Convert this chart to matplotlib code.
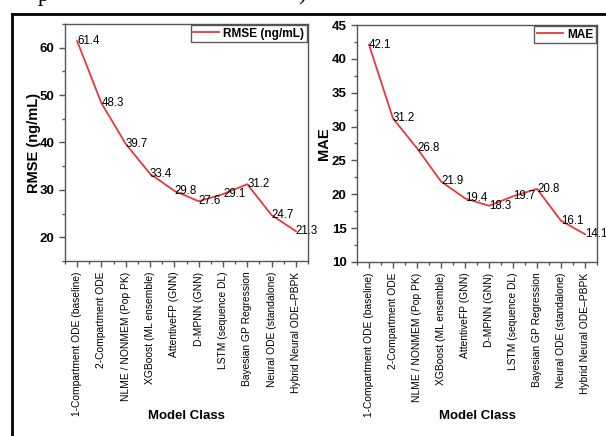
import matplotlib
matplotlib.use("Agg")
import matplotlib.pyplot as plt
from matplotlib.lines import Line2D
from matplotlib.ticker import MultipleLocator, FixedLocator

plt.rcParams['font.family'] = ['Liberation Sans', 'DejaVu Sans']

categories = ["1-Compartment ODE (baseline)", "2-Compartment ODE", "NLME / NONMEM (Pop PK)",
              "XGBoost (ML ensemble)", "AttentiveFP (GNN)", "D-MPNN (GNN)",
              "LSTM (sequence DL)", "Bayesian GP Regression", "Neural ODE (standalone)",
              "Hybrid Neural ODE\u2013PBPK"]
rmse = [61.4, 48.3, 39.7, 33.4, 29.8, 27.6, 29.1, 31.2, 24.7, 21.3]
mae = [42.1, 31.2, 26.8, 21.9, 19.4, 18.3, 19.7, 20.8, 16.1, 14.1]

W, H = 606, 436
fig = plt.figure(figsize=(W / 100, H / 100), dpi=100)

red = "#E8383D"
spine_c = "#555555"

def make(px, vals, ylabel, legend_label, ylim, major, minor, ylab_right_px):
    x0, x1, ytop, ybot = px
    ax = fig.add_axes([x0 / W, 1 - ybot / H, (x1 - x0) / W, (ybot - ytop) / H])
    x = list(range(len(categories)))
    ax.plot(x, vals, color=red, lw=1.3, label=legend_label)
    for xi, v in zip(x, vals):
        ax.text(xi, v, f"{v:.1f}", ha='left', va='center', fontsize=8.3, color='black',
                clip_on=False)
    ax.set_xlim(-0.5, len(categories) - 0.5)
    ax.set_ylim(*ylim)
    ax.yaxis.set_major_locator(MultipleLocator(major))
    ax.yaxis.set_minor_locator(MultipleLocator(minor))
    ax.set_xticks(x)
    ax.set_xticklabels(categories, rotation=90, fontsize=7.4)
    ax.xaxis.set_minor_locator(FixedLocator([i - 0.5 for i in range(len(categories) + 1)]))
    ax.tick_params(axis='both', which='major', direction='out', length=4, width=1, color=spine_c)
    ax.tick_params(axis='both', which='minor', direction='out', length=2.5, width=1, color=spine_c)
    ax.tick_params(axis='y', labelsize=9.5)
    for lbl in ax.get_yticklabels():
        lbl.set_fontweight('bold')
    for s in ax.spines.values():
        s.set_color(spine_c)
        s.set_linewidth(1.0)
    ax.set_ylabel(ylabel, fontsize=10.5, fontweight='bold')
    ax.yaxis.set_label_coords((ylab_right_px - x0) / (x1 - x0), 0.5)
    ax.set_xlabel("Model Class", fontsize=9.5, fontweight='bold')
    ax.xaxis.set_label_coords(0.5, -(410 - ybot) / (ybot - ytop))
    leg = ax.legend(loc='upper right', fontsize=8.6, frameon=True, fancybox=False,
                    borderaxespad=0.1, handlelength=2.2, borderpad=0.2, handletextpad=0.35)
    leg.get_frame().set_edgecolor('#333333')
    leg.get_frame().set_linewidth(1.0)
    for t in leg.get_texts():
        t.set_fontweight('bold')
    return ax

make((65, 308, 24, 261), rmse, "RMSE (ng/mL)", "RMSE (ng/mL)", (15, 65), 10, 5, 41)
make((357, 597, 25, 262), mae, "MAE", "MAE", (10, 45), 5, 2.5, 331)

# outer document frame
fig.add_artist(Line2D([12 / W, 12 / W], [0, 1 - 14 / H], transform=fig.transFigure,
                      color='black', lw=2))
fig.add_artist(Line2D([12 / W, 1], [1 - 14 / H, 1 - 14 / H], transform=fig.transFigure,
                      color='black', lw=2))
# cropped serif text fragments from the page above
fig.text(38 / W, 1 + 4 / H, "p", fontsize=16, family='Liberation Serif', va='center', ha='left')
fig.text(298 / W, 1 + 4 / H, ")", fontsize=16, family='Liberation Serif', va='center', ha='left')

fig.savefig("out.png", dpi=100)
